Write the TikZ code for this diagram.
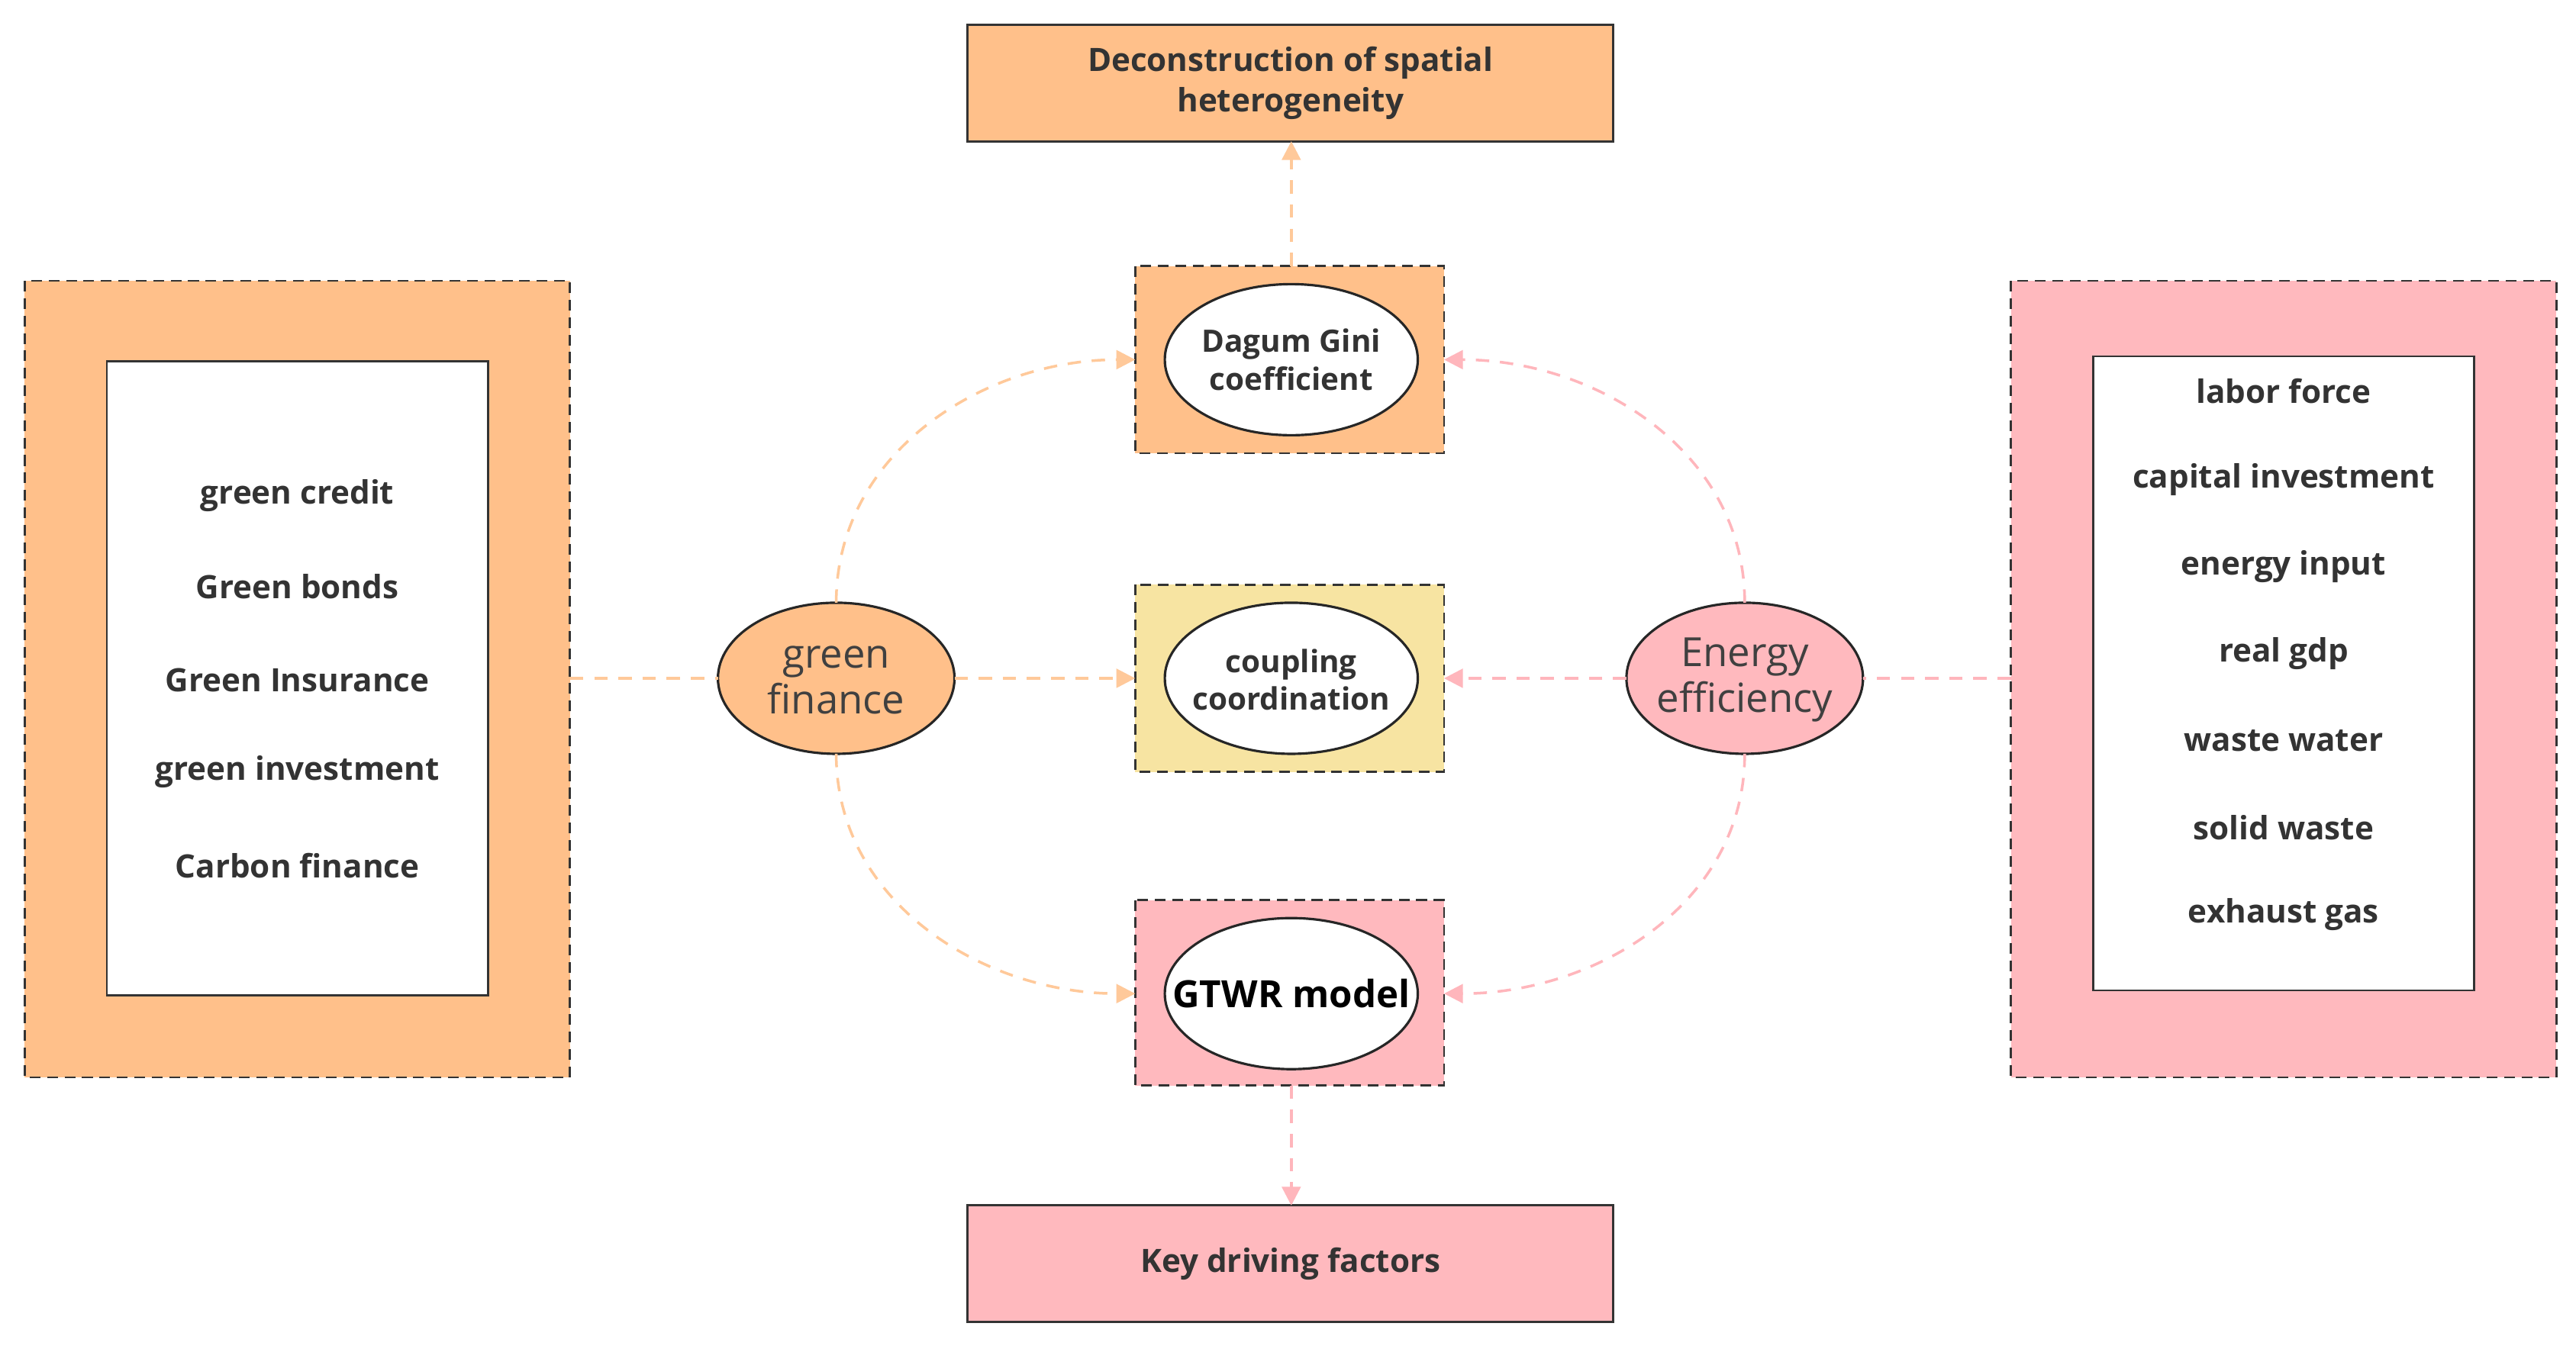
\documentclass[tikz,border=0pt]{standalone}
\usepackage{fontspec}
\setmainfont{Open Sans}
\usetikzlibrary{arrows.meta,shapes.geometric}
\definecolor{orng}{HTML}{FFC08A}
\definecolor{pnk}{HTML}{FFB9BE}
\definecolor{yel}{HTML}{F7E4A2}
\definecolor{ol}{HTML}{FFC99A}
\definecolor{pl}{HTML}{FFB6BC}
\begin{document}
\begin{tikzpicture}[x=0.021524cm,y=-0.021524cm,
 solidbox/.style={draw=black!80,line width=0.8pt,font=\bfseries\fontsize{12}{15}\selectfont,text=black!80,align=center},
 dbox/.style={draw=black!80,line width=0.8pt,dash pattern=on 4pt off 2.5pt},
 item/.style={font=\bfseries\fontsize{12}{14}\selectfont,text=black!80},
 oarr/.style={draw=ol,line width=1pt,dash pattern=on 5pt off 4pt,-{Triangle[length=7pt,width=7pt]}},
 parr/.style={draw=pl,line width=1pt,dash pattern=on 5pt off 4pt,-{Triangle[length=7pt,width=7pt]}},
 oline/.style={draw=ol,line width=1pt,dash pattern=on 5pt off 4pt},
 pline/.style={draw=pl,line width=1pt,dash pattern=on 5pt off 4pt}]
\useasboundingbox (0,0) rectangle (1568,821);
\fill[white] (0,0) rectangle (1568,821);
% top/bottom boxes
\draw[solidbox,fill=orng] (589,15) rectangle (982,86);
\node[solidbox,draw=none] (top) at (785.5,50.5) {Deconstruction of spatial\\heterogeneity};
\coordinate (topb) at (786,86);
\draw[solidbox,fill=pnk] (589,734) rectangle (982,805);
\node[solidbox,draw=none] (bot) at (785.5,769.5) {Key driving factors};
\coordinate (botb) at (786,734);
% left panel
\draw[dbox,fill=orng] (15,171) rectangle (347,656);
\draw[draw=black!80,line width=0.8pt,fill=white] (65,220) rectangle (297,606);
\foreach \t/\y in {green credit/302,Green bonds/357,Green Insurance/414,green investment/470,Carbon finance/527}
 \node[item] at (181,\y) {\t};
\coordinate (lp) at (347,413);
% right panel
\draw[dbox,fill=pnk] (1224,171) rectangle (1556,656);
\draw[draw=black!80,line width=0.8pt,fill=white] (1274,217) rectangle (1506,603);
\foreach \t/\y in {labor force/238,capital investment/292,energy input/345,real gdp/398,waste water/451,solid waste/504,exhaust gas/557}
 \node[item] at (1390,\y) {\t};
\coordinate (rp) at (1224,413);
% middle boxes
\draw[dbox,fill=orng] (691,162) rectangle (879,276);
\draw[dbox,fill=yel] (691,356) rectangle (879,470);
\draw[dbox,fill=pnk] (691,548) rectangle (879,661);
\coordinate (dT) at (786,162); \coordinate (dL) at (691,219); \coordinate (dR) at (879,219);
\coordinate (cL) at (691,413); \coordinate (cR) at (879,413);
\coordinate (gL) at (691,605); \coordinate (gR) at (879,605); \coordinate (gB) at (786,661);
\draw[line width=0.9pt,draw=black!85,fill=white] (786,219) ellipse (77 and 46);
\node[item,align=center,font=\bfseries\fontsize{11.5}{14}\selectfont] (dag) at (786,219) {Dagum Gini\\coefficient};
\draw[line width=0.9pt,draw=black!85,fill=white] (786,413) ellipse (77 and 46);
\node[item,align=center,font=\bfseries\fontsize{11.5}{14}\selectfont] (cpl) at (786,414) {coupling\\coordination};
\draw[line width=0.9pt,draw=black!85,fill=white] (786,605) ellipse (77 and 46);
\node[item,text=black,font=\bfseries\fontsize{14}{16}\selectfont] (gtwr) at (786,605) {GTWR model};
% side ellipses
\draw[line width=0.9pt,draw=black!85,fill=orng] (509,413) ellipse (72 and 46);
\node[align=center,text=black!75,font=\fontsize{15}{17}\selectfont] (gf) at (509,414) {green\\finance};
\draw[line width=0.9pt,draw=black!85,fill=pnk] (1062,413) ellipse (72 and 46);
\node[align=center,text=black!75,font=\fontsize{15}{17}\selectfont] (ee) at (1062,414) {Energy\\efficiency};
\coordinate (gfT) at (509,367); \coordinate (gfB) at (509,459); \coordinate (gfL) at (437,413); \coordinate (gfR) at (581,413);
\coordinate (eeT) at (1062,367); \coordinate (eeB) at (1062,459); \coordinate (eeL) at (990,413); \coordinate (eeR) at (1134,413);
% connectors
\draw[oline] (lp) -- (gfL);
\draw[pline] (rp) -- (eeR);
\draw[oarr] (gfR) -- (cL);
\draw[parr] (eeL) -- (cR);
\draw[oarr] (gfT) to[out=90,in=180] (dL);
\draw[oarr] (gfB) to[out=-90,in=180] (gL);
\draw[parr] (eeT) to[out=90,in=0] (dR);
\draw[parr] (eeB) to[out=-90,in=0] (gR);
\draw[oarr] (dT) -- (topb);
\draw[parr] (gB) -- (botb);
\end{tikzpicture}
\end{document}
